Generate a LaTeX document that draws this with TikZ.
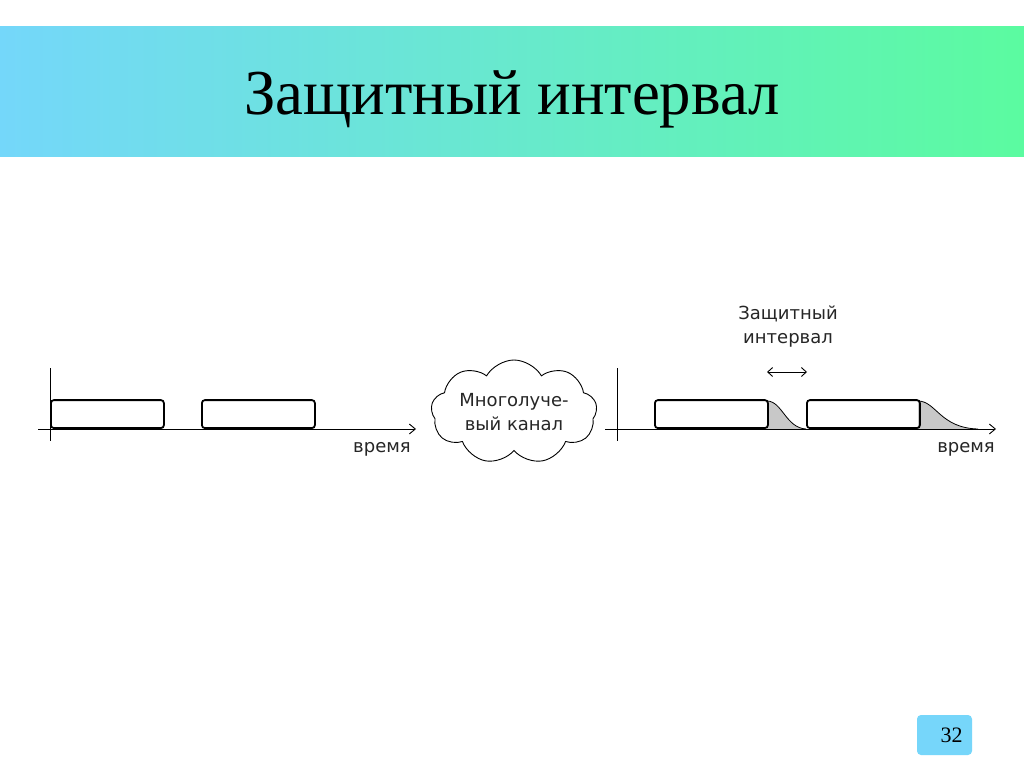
\documentclass[tikz,border=0pt]{standalone}
\usepackage{fontspec}
\setmainfont{Liberation Serif}
\newfontfamily\diagfont{DejaVu Sans}
\usetikzlibrary{shapes.symbols,arrows.meta}
\definecolor{bandL}{HTML}{74D7FA}
\definecolor{bandR}{HTML}{5BFBA0}
\definecolor{numbox}{HTML}{76D6FA}
\definecolor{tailgray}{HTML}{C8C8C8}
\tikzset{
  pulse/.style={draw=black, line width=1.8pt, rounded corners=3pt, minimum width=113pt, minimum height=28pt, inner sep=0pt, anchor=south west},
  axisline/.style={line width=0.9pt, -{Straight Barb[length=6pt,width=10pt]}},
  vaxis/.style={line width=0.9pt},
  lbl/.style={font=\diagfont\fontsize{18}{24}\selectfont, text=black!85, align=center, inner sep=0pt},
  tail/.style={fill=tailgray, draw=black, line width=0.8pt},
}
\begin{document}
\begin{tikzpicture}[x=1pt,y=-1pt]
\useasboundingbox (0,0) rectangle (1024,767);
\fill[white] (0,0) rectangle (1024,767);
% title band
\shade[left color=bandL, right color=bandR, shading=axis] (0,27) rectangle (1024,157);
\node[font=\fontsize{64}{70}\selectfont, inner sep=0pt] (title) at (512,99) {\scalebox{0.98}[1]{Защитный интервал}};

% left diagram
\coordinate (l0) at (38,429);
\coordinate (l1) at (416,429);
\coordinate (lv0) at (50,368);
\coordinate (lv1) at (50,441);
\draw[vaxis] (lv0) -- (lv1);
\draw[axisline] (l0) -- (l1);
\node[pulse] (p1) at (50,429) {};
\node[pulse] (p2) at (201,429) {};
\node[lbl] (t1) at (382,449) {время};

% cloud
\node[cloud, draw, line width=0.9pt, cloud puffs=9, cloud puff arc=120, minimum width=166pt, minimum height=104pt, aspect=1.6, inner sep=0pt] (ch) at (514,412) {};
\node[lbl] (cht) at (ch.center) {Многолуче-\\вый канал};

% right diagram
\coordinate (r0) at (605,429);
\coordinate (r1) at (996,429);
\coordinate (rv0) at (617,368);
\coordinate (rv1) at (617,441);
\draw[vaxis] (rv0) -- (rv1);
\fill[tailgray] (767,401) .. controls (782,401) and (786,428) .. (806,429) -- (767,429) -- cycle;
\draw[line width=0.8pt] (767,401) .. controls (782,401) and (786,428) .. (806,429);
\fill[tailgray] (918,401) .. controls (936,401) and (940,428) .. (978,429) -- (918,429) -- cycle;
\draw[line width=0.8pt] (918,401) .. controls (936,401) and (940,428) .. (978,429);
\draw[axisline] (r0) -- (r1);
\node[pulse] (p3) at (654,429) {};
\node[pulse] (p4) at (806,429) {};
\node[lbl] (t2) at (966,449) {время};
\coordinate (g0) at (767,372);
\coordinate (g1) at (807,372);
\draw[line width=0.9pt, {Straight Barb[length=5pt,width=9pt]}-{Straight Barb[length=5pt,width=9pt]}] (g0) -- (g1);
\node[lbl] (gl) at (788,327) {Защитный\\интервал};

% page number
\node[fill=numbox, rounded corners=4pt, minimum width=55pt, minimum height=40pt, inner sep=0pt, font=\fontsize{22}{26}\selectfont] (num) at (944.5,735) {\hspace*{14pt}32};
\end{tikzpicture}
\end{document}
